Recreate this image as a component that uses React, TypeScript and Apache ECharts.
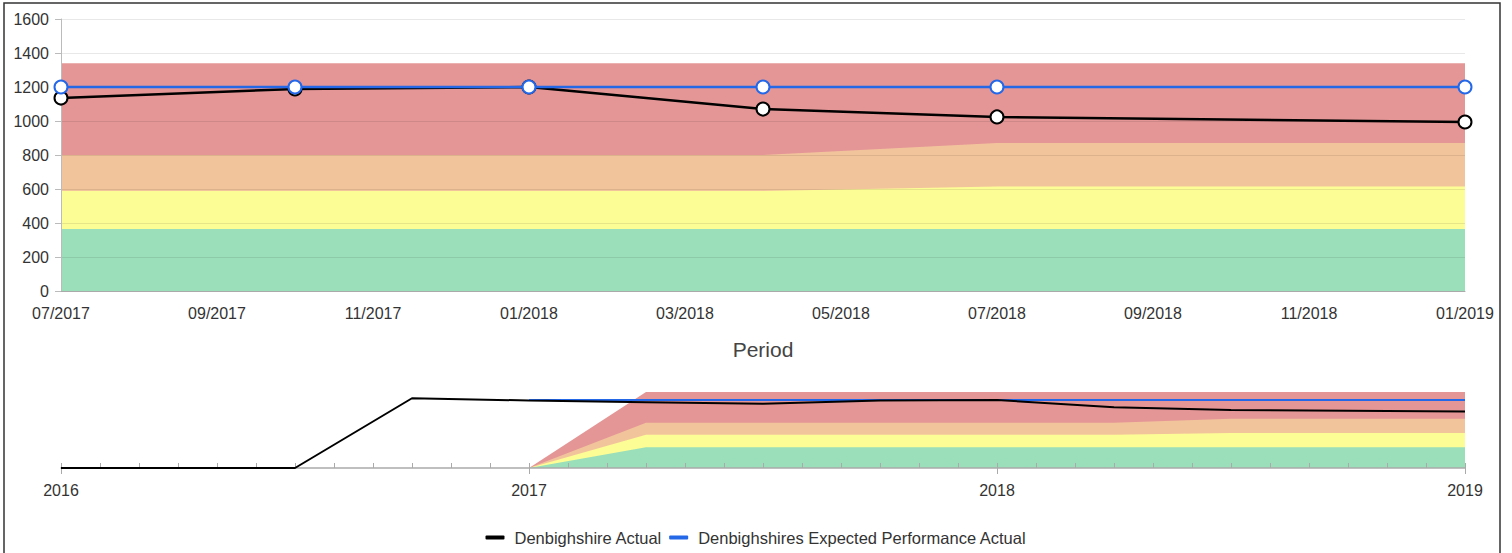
import React, { useEffect, useRef } from "react";
import * as echarts from "echarts";

// ---- data ----
const actualDates = ["2016-01", "2016-04", "2016-07", "2016-10", "2017-01", "2017-04", "2017-07", "2017-10", "2018-01", "2018-04", "2018-07", "2019-01"];
const actualValues = [0, 0, 0, 1230, 1190, 1160, 1135, 1188, 1200, 1070, 1024, 994];

const expectedDates = ["2017-01", "2017-04", "2017-07", "2017-10", "2018-01", "2018-04", "2018-07", "2019-01"];
const expectedValues = [1200, 1200, 1200, 1200, 1200, 1200, 1200, 1200];

// performance bands: upper limit of each band
const bandDates = ["2017-01", "2017-04", "2017-07", "2017-10", "2018-01", "2018-04", "2018-07", "2019-01"];
const greenTop = [0, 365, 365, 365, 365, 365, 365, 365];
const yellowTop = [0, 588, 588, 588, 588, 588, 615, 615];
const orangeTop = [0, 800, 800, 800, 800, 800, 870, 870];
const redTop = [0, 1340, 1340, 1340, 1340, 1340, 1340, 1340];

const mainStart = "2017-07";
const mainEnd = "2019-01";
const navStart = "2016-01";
const navEnd = "2019-01";
const yTicks = [0, 200, 400, 600, 800, 1000, 1200, 1400, 1600];

const seriesNames = ["Denbighshire Actual", "Denbighshires Expected Performance Actual"];

// ---- helpers ----
const pad = (n: number) => (n < 10 ? "0" + n : "" + n);
const monthRange = (start: string, end: string) => {
  const [sy, sm] = start.split("-").map(Number);
  const [ey, em] = end.split("-").map(Number);
  const out: string[] = [];
  let y = sy, m = sm;
  while (y < ey || (y === ey && m <= em)) {
    out.push(y + "-" + pad(m));
    m++;
    if (m > 12) { m = 1; y++; }
  }
  return out;
};
const align = (cats: string[], dates: string[], vals: number[]) =>
  cats.map((c) => {
    const i = dates.indexOf(c);
    return i >= 0 ? vals[i] : null;
  });
const fmtMonth = (s: string) => s.slice(5, 7) + "/" + s.slice(0, 4);

const FONT = "'Liberation Sans', Arial, Helvetica, sans-serif";
// drawn back to front: red, orange, yellow, green
const bandTops = [redTop, orangeTop, yellowTop, greenTop];
const bandColors = ["#e49696", "#f2c49c", "#fdfd96", "#9adfb9"];
const BLACK = "#000000";
const BLUE = "#2468e8";

export default function App() {
  const ref = useRef<HTMLDivElement>(null);

  useEffect(() => {
    if (!ref.current) return;
    const chart = echarts.init(ref.current, null, { renderer: "svg" });

    const mainCats = monthRange(mainStart, mainEnd);
    const navCats = monthRange(navStart, navEnd);

    const bandSeries = (grid: number, cats: string[]) =>
      bandTops.map((vals, i) => ({
        type: "line",
        name: "band" + i + "_" + grid,
        xAxisIndex: grid === 0 ? 0 : 1,
        yAxisIndex: grid,
        data: align(cats, bandDates, vals),
        connectNulls: true,
        symbol: "none",
        silent: true,
        lineStyle: { width: 0 },
        itemStyle: { color: bandColors[i] },
        areaStyle: { color: bandColors[i], opacity: 1 },
        z: 1,
      }));

    const navMax = Math.max(...redTop, ...actualValues, ...expectedValues);

    const option: any = {
      animation: false,
      textStyle: { fontFamily: FONT },
      graphic: [
        {
          type: "rect",
          shape: { x: 4, y: 3, width: 1496, height: 570 },
          style: { fill: "none", stroke: "#333", lineWidth: 1.5 },
          silent: true,
          z: 100,
        },
      ],
      legend: {
        data: seriesNames.map((n) => ({ name: n })),
        bottom: 2,
        left: "center",
        icon: "roundRect",
        itemWidth: 19,
        itemHeight: 4,
        itemGap: 7,
        textStyle: { fontSize: 16.5, color: "#333", fontFamily: FONT, padding: [0, 0, 0, 5] },
        selectedMode: false,
      },
      grid: [
        { left: 61, right: 47, top: 19, height: 272, containLabel: false },
        { left: 61, right: 47, top: 392, height: 76, containLabel: false },
      ],
      xAxis: [
        {
          type: "category",
          gridIndex: 0,
          data: mainCats,
          boundaryGap: false,
          z: 3,
          name: "Period",
          nameLocation: "middle",
          nameGap: 48,
          nameTextStyle: { fontSize: 21, color: "#444", fontFamily: FONT },
          axisLine: { show: true, lineStyle: { color: "#aaaaaa", width: 1 } },
          axisTick: { show: false },
          splitLine: { show: false },
          axisLabel: {
            interval: 1,
            formatter: (v: string) => fmtMonth(v),
            fontSize: 16,
            color: "#333",
            margin: 14,
            fontFamily: FONT,
          },
        },
        {
          type: "category",
          gridIndex: 1,
          data: navCats,
          boundaryGap: false,
          z: 3,
          axisLine: { show: true, lineStyle: { color: "#aaaaaa", width: 1.5 } },
          axisTick: { show: true, inside: true, interval: 0, length: 5, lineStyle: { color: "#aaaaaa" } },
          splitLine: { show: false },
          axisLabel: {
            interval: (i: number) => i % 12 === 0,
            formatter: (v: string) => v.slice(0, 4),
            fontSize: 16,
            color: "#333",
            margin: 14,
            fontFamily: FONT,
          },
        },
        {
          type: "category",
          gridIndex: 1,
          position: "bottom",
          data: navCats,
          boundaryGap: false,
          z: 3,
          axisLine: { show: false },
          axisTick: { show: true, inside: false, interval: (i: number) => i % 12 === 0, length: 6, lineStyle: { color: "#aaaaaa" } },
          axisLabel: { show: false },
          splitLine: { show: false },
        },
      ],
      yAxis: [
        {
          type: "value",
          gridIndex: 0,
          min: yTicks[0],
          max: yTicks[yTicks.length - 1],
          interval: yTicks[1] - yTicks[0],
          z: 3,
          axisLine: { show: true, lineStyle: { color: "#bbbbbb" } },
          axisTick: { show: true, length: 6, lineStyle: { color: "#bbbbbb" } },
          splitLine: { show: true, lineStyle: { color: "rgba(0,0,0,0.09)", width: 1 } },
          axisLabel: { fontSize: 16, color: "#333", margin: 12, fontFamily: FONT, formatter: (v: number) => String(v) },
        },
        {
          type: "value",
          gridIndex: 1,
          min: 0,
          max: navMax,
          show: false,
          splitLine: { show: false },
        },
      ],
      series: [
        ...bandSeries(0, mainCats),
        {
          type: "line",
          name: seriesNames[0],
          xAxisIndex: 0,
          yAxisIndex: 0,
          data: align(mainCats, actualDates, actualValues),
          connectNulls: true,
          symbol: "emptyCircle",
          symbolSize: 13,
          showAllSymbol: true,
          lineStyle: { color: BLACK, width: 2.5 },
          itemStyle: { color: BLACK, borderWidth: 2.8 },
          z: 5,
        },
        {
          type: "line",
          name: seriesNames[1],
          xAxisIndex: 0,
          yAxisIndex: 0,
          data: align(mainCats, expectedDates, expectedValues),
          connectNulls: true,
          symbol: "emptyCircle",
          symbolSize: 13,
          showAllSymbol: true,
          lineStyle: { color: BLUE, width: 2.5 },
          itemStyle: { color: BLUE, borderWidth: 2.8 },
          z: 6,
        },
        ...bandSeries(1, navCats),
        {
          type: "line",
          name: seriesNames[0],
          xAxisIndex: 1,
          yAxisIndex: 1,
          data: align(navCats, actualDates, actualValues),
          connectNulls: true,
          symbol: "none",
          lineStyle: { color: BLACK, width: 2 },
          itemStyle: { color: BLACK },
          z: 5,
        },
        {
          type: "line",
          name: seriesNames[1],
          xAxisIndex: 1,
          yAxisIndex: 1,
          data: align(navCats, expectedDates, expectedValues),
          connectNulls: true,
          symbol: "none",
          lineStyle: { color: BLUE, width: 2 },
          itemStyle: { color: BLUE },
          z: 4,
        },
      ],
    };

    chart.setOption(option);
    return () => chart.dispose();
  }, []);

  return (
    <div
      ref={ref}
      style={{ position: "fixed", left: 0, top: 0, width: 1512, height: 553, background: "#fff" }}
    />
  );
}
